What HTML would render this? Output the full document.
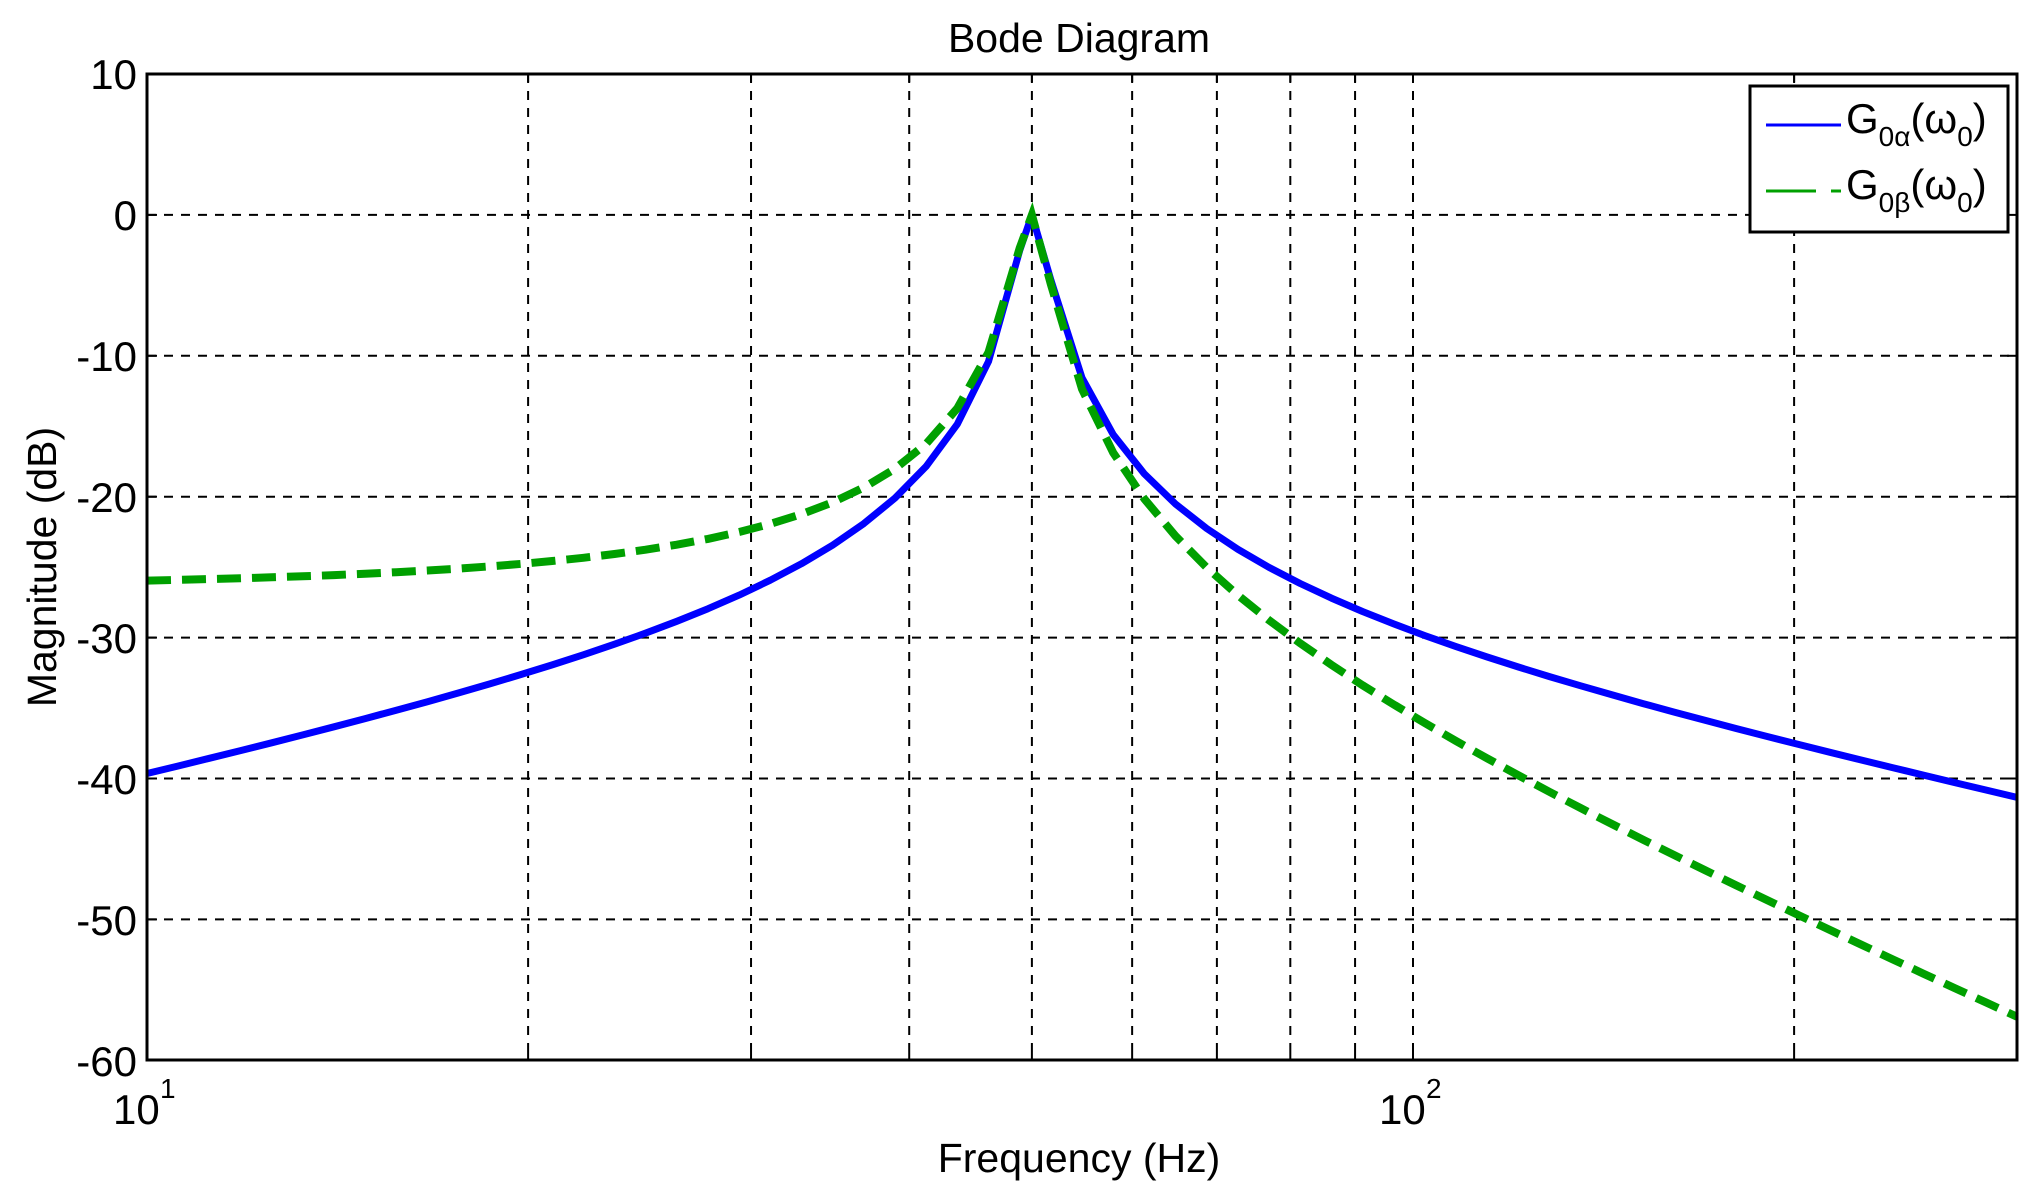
<!DOCTYPE html>
<html><head><meta charset="utf-8"><style>
html,body{margin:0;padding:0;background:#fff;}
svg{display:block;}
text{font-family:"Liberation Sans",Arial,sans-serif;fill:#000;}
</style></head><body>
<svg id="s" width="2040" height="1193" viewBox="0 0 2040 1193" xmlns="http://www.w3.org/2000/svg">
<rect width="2040" height="1193" fill="#fff"/>
<g id="grid" stroke="#000" stroke-width="2" stroke-dasharray="9,8" fill="none"></g>
<path id="blue" fill="none" stroke="#0000ff" stroke-width="7" stroke-linejoin="round"/>
<path id="green" fill="none" stroke="#00a000" stroke-width="8" stroke-dasharray="24,11"/>
<rect x="147" y="74" width="1870" height="986" fill="none" stroke="#000" stroke-width="3"/>
<g id="ticks" stroke="#000" stroke-width="2"></g>
<text x="1079" y="52" font-size="41" text-anchor="middle">Bode Diagram</text>
<g font-size="42" text-anchor="end">
<text x="137" y="89">10</text>
<text x="137" y="230">0</text>
<text x="137" y="371">-10</text>
<text x="137" y="512">-20</text>
<text x="137" y="653">-30</text>
<text x="137" y="794">-40</text>
<text x="137" y="935">-50</text>
<text x="137" y="1076">-60</text>
</g>
<text x="113" y="1124" font-size="42">10</text><text x="160" y="1098" font-size="28">1</text>
<text x="1379" y="1124" font-size="42">10</text><text x="1426" y="1098" font-size="28">2</text>
<text x="1079" y="1172" font-size="41" text-anchor="middle">Frequency  (Hz)</text>
<text transform="translate(56,567) rotate(-90)" font-size="41" text-anchor="middle">Magnitude (dB)</text>
<rect x="1750" y="86" width="258" height="146" fill="#fff" stroke="#000" stroke-width="3"/>
<line x1="1766" y1="125" x2="1841" y2="125" stroke="#0000ff" stroke-width="3"/>
<line x1="1766" y1="191" x2="1816" y2="191" stroke="#00a000" stroke-width="3"/>
<line x1="1831" y1="191" x2="1841" y2="191" stroke="#00a000" stroke-width="3"/>
<text x="1846" y="133" font-size="42">G<tspan font-size="28" dy="13">0α</tspan><tspan dy="-13">(ω</tspan><tspan font-size="28" dy="13">0</tspan><tspan dy="-13">)</tspan></text>
<text x="1846" y="199" font-size="42">G<tspan font-size="28" dy="13">0β</tspan><tspan dy="-13">(ω</tspan><tspan font-size="28" dy="13">0</tspan><tspan dy="-13">)</tspan></text>
</svg>
<script>
var X0=147,D=1266,Y0=74,PD=14.09;
function xf(f){return X0+D*Math.log10(f/10);}
function yd(d){return Y0+(10-d)*PD;}
var g=document.getElementById('grid'),t=document.getElementById('ticks'),ns='http://www.w3.org/2000/svg';
function ln(p,x1,y1,x2,y2){var l=document.createElementNS(ns,'line');l.setAttribute('x1',x1);l.setAttribute('y1',y1);l.setAttribute('x2',x2);l.setAttribute('y2',y2);p.appendChild(l);}
[20,30,40,50,60,70,80,90,100,200].forEach(function(f){var x=xf(f);ln(g,x,74,x,1060);ln(t,x,1060,x,1052);ln(t,x,74,x,82);});
for(var d=0;d>=-50;d-=10){var y=yd(d);ln(g,147,y,2017,y);ln(t,147,y,157,y);ln(t,2017,y,2007,y);}
var k=0.05,pb='',pg='',fs=[];
for(var i=0;i<=60;i++){fs.push(10*Math.pow(30,i/60));}
fs.push(50);fs.sort(function(a,b){return a-b;});
fs.forEach(function(f,i){var x=f/50,den=Math.sqrt(Math.pow(1-x*x,2)+Math.pow(k*x,2));
var b=20*Math.log10(k*x/den),gr=20*Math.log10(0.048/den)+0.35*Math.min(1,x);
if(Math.abs(x-1)<1e-6)gr=0;
var c=(i?'L':'M')+xf(f).toFixed(1)+',';pb+=c+yd(b).toFixed(1);pg+=c+yd(gr).toFixed(1);});
document.getElementById('blue').setAttribute('d',pb);
document.getElementById('green').setAttribute('d',pg);
</script>
</body></html>
